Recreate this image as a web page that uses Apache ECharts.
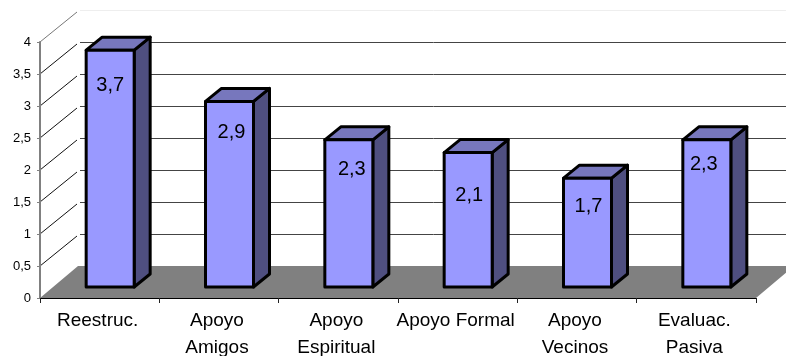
<!DOCTYPE html>
<html>
<head>
<meta charset="utf-8">
<style>html,body{margin:0;padding:0;background:#fff}#chart{width:786px;height:356px}</style>
<script src="https://cdn.jsdelivr.net/npm/echarts@6/dist/echarts.min.js"></script>
</head>
<body>
<div id="chart"></div>
<script>
// Chart content
const categories = ['Reestruc.', 'Apoyo\nAmigos', 'Apoyo\nEspiritual', 'Apoyo Formal', 'Apoyo\nVecinos', 'Evaluac.\nPasiva'];
const values = [3.7, 2.9, 2.3, 2.1, 1.7, 2.3];
const wallTicks = [0.5, 1, 1.5, 2, 2.5, 3, 3.5, 4];

// Pseudo-3D layout, in pixels
const wallDepth = { x: 38, y: 32 };
const barDepth = { x: 16, y: 13 };
const barShift = { x: 10.5, y: 11 };
const barWidth = 48;
const labelNudge = [[0, 35], [2, 31], [3, 30], [1, 43], [1, 28], [-3, 25]];

const comma = v => String(v).replace('.', ',');
const INK = '#000';

function renderWallDiagonal(params, api) {
  const rect = params.coordSys;
  const y = api.coord([0, api.value(0)])[1];
  const top = api.value(0) === 4;
  return {
    type: 'line',
    shape: { x1: rect.x, y1: y, x2: rect.x + wallDepth.x - 1, y2: y - wallDepth.y + 2 },
    style: { stroke: top ? '#777' : '#111', lineWidth: 1 }
  };
}

function renderFloor(params, api) {
  const rect = params.coordSys;
  const y = api.coord([0, 0])[1];
  const x0 = rect.x, x1 = rect.x + rect.width;
  return {
    type: 'polygon',
    shape: { points: [[x0, y], [x0 + wallDepth.x, y - wallDepth.y], [x1 + wallDepth.x, y - wallDepth.y], [x1, y]] },
    style: { fill: '#808080' }
  };
}

function renderBar(params, api) {
  const i = api.value(0), v = api.value(1);
  const cx = api.coord([i, 0])[0] + barShift.x;
  const base = api.coord([i, 0])[1] - barShift.y;
  const top = api.coord([i, v])[1] - barShift.y;
  const l = cx - barWidth / 2, r = cx + barWidth / 2;
  const dx = barDepth.x, dy = barDepth.y;
  const edge = { stroke: INK, lineWidth: 3, lineJoin: 'round' };
  return {
    type: 'group',
    children: [
      { type: 'polygon', shape: { points: [[r, top], [r + dx, top - dy], [r + dx, base - dy], [r, base]] },
        style: Object.assign({ fill: '#4f4f80' }, edge) },
      { type: 'polygon', shape: { points: [[l, top], [l + dx, top - dy], [r + dx, top - dy], [r, top]] },
        style: Object.assign({ fill: '#7777bd' }, edge) },
      { type: 'rect', shape: { x: l, y: top, width: barWidth, height: base - top },
        style: Object.assign({ fill: '#9999ff' }, edge) },
      { type: 'text', x: cx + labelNudge[i][0], y: top + labelNudge[i][1],
        style: { text: comma(v), fill: '#000', font: '20px "Liberation Sans", Arial, sans-serif', align: 'center', verticalAlign: 'middle' } }
    ]
  };
}

const chart = echarts.init(document.getElementById('chart'), null, { renderer: 'canvas' });
chart.setOption({
  animation: false,
  backgroundColor: '#fff',
  grid: [
    { left: 40, top: 42, width: 716, height: 256, outerBoundsMode: 'none' },
    { left: 80, top: 10, width: 716, height: 256, outerBoundsMode: 'none' }
  ],
  xAxis: [
    {
      type: 'category', gridIndex: 0, data: categories, z: 5,
      axisLine: { lineStyle: { color: '#000', width: 1 } },
      axisTick: { show: true, alignWithLabel: false, length: 5, lineStyle: { color: '#222' } },
      axisLabel: { interval: 0, color: '#000', fontFamily: 'Liberation Sans', fontSize: 19, lineHeight: 27, margin: 9, padding: [0, 4, 0, 0], hideOverlap: false }
    },
    { type: 'category', gridIndex: 1, data: categories, show: false }
  ],
  yAxis: [
    {
      type: 'value', gridIndex: 0, min: 0, max: 4, interval: 0.5, z: 5,
      axisLine: { show: true, lineStyle: { color: '#808080', width: 2 } },
      axisTick: { show: true, length: 3, lineStyle: { color: '#808080' } },
      splitLine: { show: false },
      axisLabel: { color: '#000', fontFamily: 'Liberation Sans', fontSize: 13, margin: 9, formatter: comma }
    },
    {
      type: 'value', gridIndex: 1, min: 0, max: 4, interval: 0.5,
      axisLine: { show: false }, axisTick: { show: false }, axisLabel: { show: false },
      splitLine: { show: true, lineStyle: { width: 1, color: ['#444', '#444', '#444', '#444', '#444', '#444', '#444', '#444', '#eeeeee'] } }
    }
  ],
  series: [
    { type: 'custom', xAxisIndex: 0, yAxisIndex: 0, z: 1, silent: true, clip: false,
      renderItem: renderWallDiagonal, data: wallTicks.map(t => [t]), encode: { y: 0 } },
    { type: 'custom', xAxisIndex: 0, yAxisIndex: 0, z: 2, silent: true, clip: false,
      renderItem: renderFloor, data: [[0]] },
    { type: 'custom', xAxisIndex: 0, yAxisIndex: 0, z: 3, silent: true, clip: false,
      renderItem: renderBar, data: values.map((v, i) => [i, v]), encode: { x: 0, y: 1 } }
  ]
});
</script>
</body>
</html>
